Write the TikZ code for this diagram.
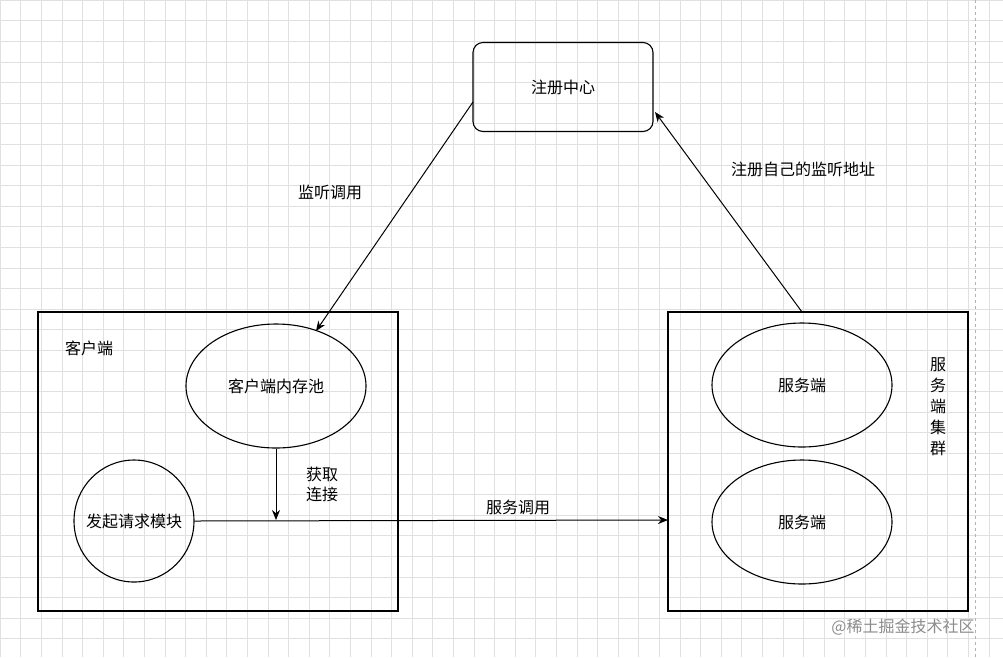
\documentclass[tikz,border=0pt]{standalone}
\usepackage{fontspec}
\setmainfont{Noto Sans CJK SC}
\usetikzlibrary{positioning,shapes.geometric,arrows.meta}
\tikzset{
	box/.style={draw=black, line width=1.1pt},
	oval/.style={draw=black, line width=1.1pt, ellipse, inner sep=0pt},
	conn/.style={line width=1pt, -{Stealth[length=10pt,width=8pt]}},
}
\begin{document}
\begin{tikzpicture}[x=1pt,y=-1pt,font=\fontsize{16}{20}\selectfont]
	\useasboundingbox (0,0) rectangle (1003,657);
	\fill[white] (0,0) rectangle (1003,657);
	\foreach \i in {0,...,49} {
		\draw[black!12] (\i*20.6,0) -- (\i*20.6,657);
	}
	\foreach \j in {0,...,32} {
		\draw[black!12] (0,\j*20.6) -- (1003,\j*20.6);
	}
	\draw[black!30,dashed] (975,0) -- (975,657);

	% registry
	\node[box, rounded corners=10pt, minimum width=180pt, minimum height=89pt] (reg) at (563,87) {注册中心};

	% client side
	\draw[box] (38,312) rectangle (398,611);
	\node (clabel) at (89,348) {客户端};
	\node[oval, minimum width=180pt, minimum height=124pt] (pool) at (276,386) {客户端内存池};
	\node[oval, minimum width=120pt, minimum height=122pt] (req) at (134,521) {};
	\node (reqtext) at (req.center) {发起请求模块};

	% server side
	\draw[box] (668,312) rectangle (968,611);
	\node[align=center, font=\fontsize{16}{21}\selectfont] (slabel) at (938,407) {服\\务\\端\\集\\群};
	\node[oval, minimum width=180pt, minimum height=124pt] (s1) at (802,385) {服务端};
	\node[oval, minimum width=180pt, minimum height=124pt] (s2) at (802,522) {服务端};

	% connectors
	\coordinate (from) at (473,102);
	\coordinate (hit) at (276,520);
	\coordinate (srv) at (668,520);
	\coordinate (top) at (802,312);
	\coordinate (regin) at (655,112);
	\draw[conn] (from) -- (316,331);
	\draw[conn] (top) -- (regin);
	\draw[conn] (pool.south) -- (hit);
	\draw[conn] (req.east) -- (srv);

	\node (l1) at (330,192) {监听调用};
	\node (l2) at (803,169) {注册自己的监听地址};
	\node[align=center] (l3) at (322,484) {获取\\连接};
	\node (l4) at (518,507) {服务调用};
	\node[black!45] (wm) at (903,627) {@稀土掘金技术社区};
\end{tikzpicture}
\end{document}
